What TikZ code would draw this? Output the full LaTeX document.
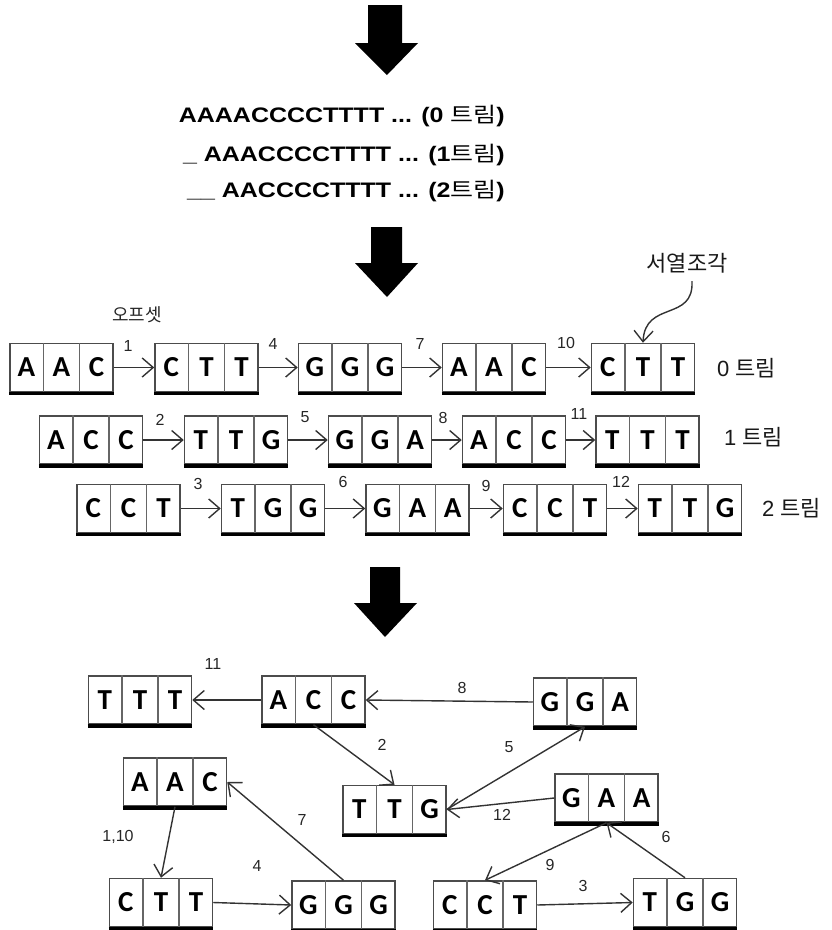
\documentclass[tikz,border=0pt]{standalone}
\usepackage{fontspec}
\usepackage{graphicx}
\setmainfont{Liberation Sans}
\newfontfamily\carl{Carlito}
\newfontfamily\kr{Noto Sans CJK KR}
\usetikzlibrary{arrows.meta}
\tikzset{
 seqbox/.style={rectangle, draw=black!70, line width=1.5pt, fill=white, minimum width=103pt, minimum height=48pt, inner sep=0pt},
 divider/.style={draw=black!60, line width=1.5pt},
 bottombar/.style={draw=black, line width=3.5pt},
 letter/.style={font=\carl\bfseries\fontsize{29}{31}\selectfont, inner sep=0pt},
 lbl/.style={font=\fontsize{16}{18}\selectfont, text=black!85, inner sep=0pt},
 conn/.style={draw=black!80, line width=1.4pt, -{Straight Barb[length=11pt,width=19pt,line width=1.4pt]}},
 trimlbl/.style={font=\fontsize{22}{24}\selectfont, anchor=west, inner sep=0pt, text=black!90},
 topline/.style={font=\bfseries\fontsize{21}{23}\selectfont, anchor=east, inner sep=0pt},
 bigarrow/.style={fill=black},
}
\newcommand\seqnode[5]{%
  \node[seqbox] (#1) at (#2) {};
  \draw[divider] ([xshift=34.33pt]#1.north west) -- ([xshift=34.33pt]#1.south west);
  \draw[divider] ([xshift=-34.33pt]#1.north east) -- ([xshift=-34.33pt]#1.south east);
  \draw[bottombar] ([yshift=-1pt]#1.south west) -- ([yshift=-1pt]#1.south east);
  \node[letter] (#1-1) at ([xshift=17.17pt]#1.west) {#3};
  \node[letter] (#1-2) at (#1.center) {#4};
  \node[letter] (#1-3) at ([xshift=-17.17pt]#1.east) {#5};
}
\newcommand\krt[1]{{\kr\mdseries #1}}
\begin{document}
\begin{tikzpicture}[x=1pt,y=-1pt]
\path[use as bounding box] (0,0) rectangle (832,930);

% big arrows
\fill[bigarrow] (368,5) -- (402,5) -- (402,43) -- (418,43) -- (387,75) -- (355,43) -- (368,43) -- cycle;
\fill[bigarrow] (371,227) -- (402,227) -- (402,263) -- (418,263) -- (387,297) -- (355,263) -- (371,263) -- cycle;
\fill[bigarrow] (370,567) -- (400,567) -- (400,603) -- (417,603) -- (385,637) -- (354,603) -- (370,603) -- cycle;

% top text
\node[topline] (t0) at (505,116) {\scalebox{1.19}[1]{AAAACCCCTTTT ... (0 \krt{트림})}};
\node[topline] (t1) at (505,155) {\scalebox{1.19}[1]{\_ AAACCCCTTTT ... (1\krt{트림})}};
\node[topline] (t2) at (505,191) {\scalebox{1.19}[1]{\_\_ AACCCCTTTT ... (2\krt{트림})}};

% row 0
\seqnode{r0a}{61.5,367.5}{A}{A}{C}
\seqnode{r0b}{206.5,367.5}{C}{T}{T}
\seqnode{r0c}{350,367.5}{G}{G}{G}
\seqnode{r0d}{494,367.5}{A}{A}{C}
\seqnode{r0e}{643,367.5}{C}{T}{T}
% row 1
\seqnode{r1a}{91,440}{A}{C}{C}
\seqnode{r1b}{236,440}{T}{T}{G}
\seqnode{r1c}{380,440}{G}{G}{A}
\seqnode{r1d}{514,440}{A}{C}{C}
\seqnode{r1e}{647.5,440}{T}{T}{T}
% row 2
\seqnode{r2a}{128.5,508.5}{C}{C}{T}
\seqnode{r2b}{273,508.5}{T}{G}{G}
\seqnode{r2c}{417.5,508.5}{G}{A}{A}
\seqnode{r2d}{555,508.5}{C}{C}{T}
\seqnode{r2e}{690,508.5}{T}{T}{G}

\foreach \r in {0,1,2}{
  \draw[conn] (r\r a.east) -- (r\r b.west);
  \draw[conn] (r\r b.east) -- (r\r c.west);
  \draw[conn] (r\r c.east) -- (r\r d.west);
  \draw[conn] (r\r d.east) -- (r\r e.west);
}
\node[lbl] (n1) at (128,346) {1};
\node[lbl] (n4) at (273,344) {4};
\node[lbl] (n7) at (420,344) {7};
\node[lbl] (n10) at (566,343) {10};
\node[lbl] (n2) at (160,420) {2};
\node[lbl] (n5) at (305,417) {5};
\node[lbl] (n8) at (443,418) {8};
\node[lbl] (n11) at (579,414) {11};
\node[lbl] (n3) at (198,484) {3};
\node[lbl] (n6) at (343,482) {6};
\node[lbl] (n9) at (486,486) {9};
\node[lbl] (n12) at (621,482) {12};

\node[trimlbl] (trim0) at (717,368) {0 \krt{트림}};
\node[trimlbl] (trim1) at (724,437) {1 \krt{트림}};
\node[trimlbl] (trim2) at (762,508) {2 \krt{트림}};

\node[font=\kr\fontsize{18}{20}\selectfont, text=black!85, inner sep=0pt] (offset) at (137,315) {오프셋};
\node[font=\kr\fontsize{22}{24}\selectfont, text=black!90, inner sep=0pt] (frag) at (687,263) {서열조각};
\draw[conn] ([xshift=5pt,yshift=-8pt]frag.south) .. controls (694,322) and (645,300) .. (r0e.north);

% bottom graph
\seqnode{bttt}{140,700}{T}{T}{T}
\seqnode{bacc}{313.5,700}{A}{C}{C}
\seqnode{bgga}{585,702}{G}{G}{A}
\seqnode{baac}{175,782}{A}{A}{C}
\seqnode{bttg}{394.5,809.5}{T}{T}{G}
\seqnode{bgaa}{606.5,798}{G}{A}{A}
\seqnode{bctt}{161,902.5}{C}{T}{T}
\seqnode{bggg}{343.5,905}{G}{G}{G}
\seqnode{bcct}{485,905}{C}{C}{T}
\seqnode{btgg}{685,902.5}{T}{G}{G}

\draw[conn] (bacc.west) -- (bttt.east);
\draw[conn] (bgga.west) -- (bacc.east);
\draw[conn] (bacc.south) -- (bttg.north);
\draw[conn] (bttg.east) -- (bgga.south);
\draw[conn] (bgaa.west) -- (bttg.east);
\draw[conn] (bgaa.south) -- (bcct.north);
\draw[conn] (btgg.north) -- (bgaa.south);
\draw[conn] (bcct.east) -- (btgg.west);
\draw[conn] (baac.south) -- (bctt.north);
\draw[conn] (bctt.east) -- (bggg.west);
\draw[conn] (bggg.north) -- (baac.east);

\node[lbl] (e11) at (213,664) {11};
\node[lbl] (e8) at (462,688) {8};
\node[lbl] (e2) at (382,745) {2};
\node[lbl] (e5) at (509,747) {5};
\node[lbl] (e12) at (502,815) {12};
\node[lbl] (e9) at (550,865) {9};
\node[lbl] (e6) at (666,837) {6};
\node[lbl] (e3) at (583,886) {3};
\node[lbl] (e110) at (118,837) {1,10};
\node[lbl] (e4) at (257,866) {4};
\node[lbl] (e7) at (302,820) {7};
\end{tikzpicture}
\end{document}
